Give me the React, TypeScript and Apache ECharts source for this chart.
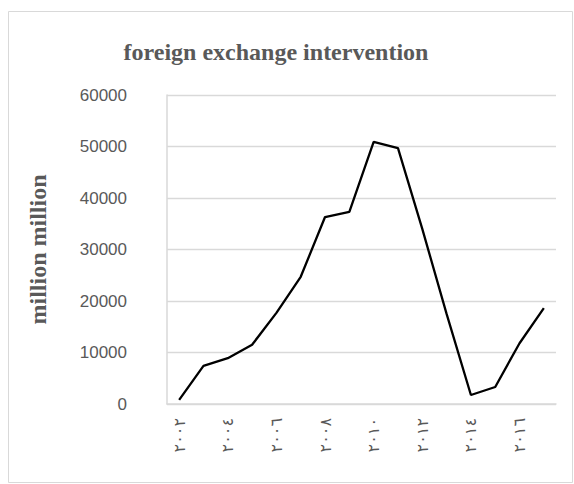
import React, { useEffect, useRef } from "react";
import * as echarts from "echarts";

const years = [
  "٢٠٠٢", "٢٠٠٣", "٢٠٠٤", "٢٠٠٥", "٢٠٠٦", "٢٠٠٧", "٢٠٠٨", "٢٠٠٩",
  "٢٠١٠", "٢٠١١", "٢٠١٢", "٢٠١٣", "٢٠١٤", "٢٠١٥", "٢٠١٦", "٢٠١٧",
];
const intervention = [
  800, 7400, 8900, 11500, 17700, 24700, 36300, 37300,
  50900, 49700, 34000, 17500, 1750, 3300, 11800, 18600,
];
const titleText = "foreign exchange intervention";
const yAxisName = "million million";

export default function App() {
  const ref = useRef<HTMLDivElement>(null);
  useEffect(() => {
    const chart = echarts.init(ref.current!, null, { renderer: "svg" });
    chart.setOption({
      animation: false,
      backgroundColor: "#ffffff",
      title: {
        text: titleText,
        left: 271,
        top: 35,
        textAlign: "center",
        textStyle: {
          fontFamily: "Liberation Serif",
          fontWeight: "bold",
          fontSize: 24,
          color: "#595959",
        },
      },
      graphic: [
        {
          type: "rect",
          shape: { x: 8.5, y: 11.5, width: 564, height: 471 },
          style: { fill: "none", stroke: "#d9d9d9", lineWidth: 1 },
          silent: true,
        },
      ],
      grid: { left: 167, right: 18, top: 95, bottom: 80 },
      xAxis: {
        type: "category",
        data: years,
        boundaryGap: true,
        axisLine: { show: true, lineStyle: { color: "#d9d9d9", width: 1.5 } },
        axisTick: { show: false },
        axisLabel: {
          interval: 1,
          rotate: 90,
          margin: 14,
          fontFamily: "DejaVu Sans",
          fontSize: 16,
          color: "#595959",
        },
        splitLine: { show: false },
      },
      yAxis: {
        type: "value",
        min: 0,
        max: 60000,
        interval: 10000,
        name: yAxisName,
        nameLocation: "middle",
        nameRotate: 90,
        nameGap: 117,
        nameTextStyle: {
          fontFamily: "Liberation Serif",
          fontWeight: "bold",
          fontSize: 24,
          color: "#595959",
        },
        axisLine: { show: true, lineStyle: { color: "#d9d9d9", width: 1.5 } },
        axisTick: { show: false },
        axisLabel: {
          margin: 40,
          fontFamily: "Liberation Sans",
          fontSize: 17,
          color: "#595959",
          formatter: (v: number) => String(v),
        },
        splitLine: { lineStyle: { color: "#d9d9d9", width: 1.3 } },
      },
      series: [
        {
          type: "line",
          data: intervention,
          symbol: "none",
          lineStyle: { color: "#000000", width: 2.3 },
        },
      ],
    });
    return () => chart.dispose();
  }, []);
  return (
    <div
      ref={ref}
      style={{ position: "fixed", left: 0, top: 0, width: 574, height: 484 }}
    />
  );
}
